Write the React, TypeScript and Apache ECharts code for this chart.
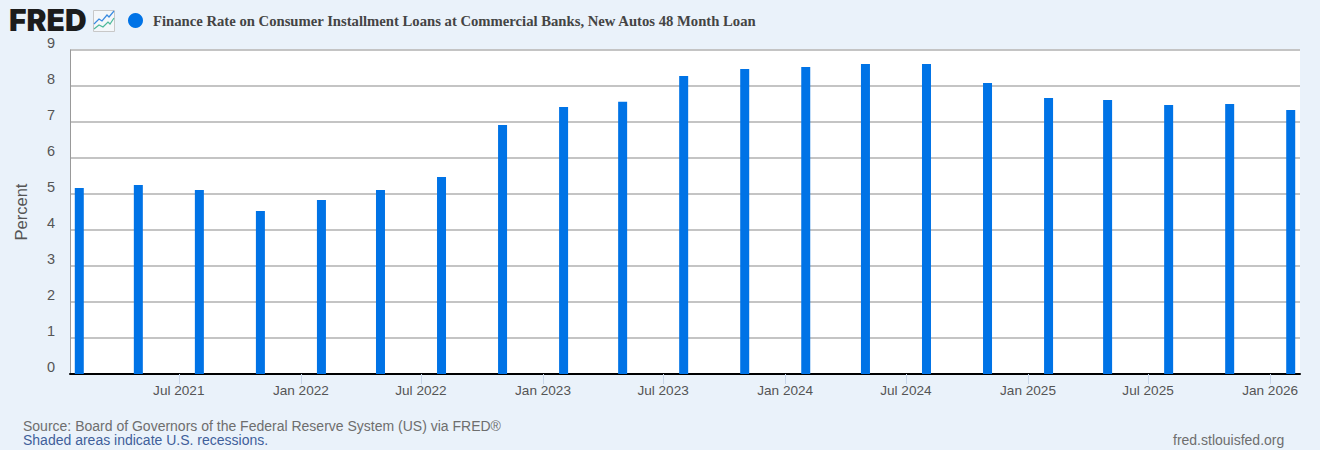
import React, { useEffect, useRef } from "react";
import * as echarts from "echarts";

const dates = ["2021-02-01","2021-05-01","2021-08-01","2021-11-01","2022-02-01","2022-05-01","2022-08-01","2022-11-01","2023-02-01","2023-05-01","2023-08-01","2023-11-01","2024-02-01","2024-05-01","2024-08-01","2024-11-01","2025-02-01","2025-05-01","2025-08-01","2025-11-01","2026-02-01"];
const rates = [5.17,5.25,5.11,4.53,4.83,5.11,5.47,6.92,7.42,7.56,8.28,8.47,8.53,8.61,8.61,8.08,7.67,7.61,7.47,7.5,7.33];
const tickDates = ["2021-07-01","2022-01-01","2022-07-01","2023-01-01","2023-07-01","2024-01-01","2024-07-01","2025-01-01","2025-07-01","2026-01-01"];
const seriesName = "Finance Rate on Consumer Installment Loans at Commercial Banks, New Autos 48 Month Loan";
const months = ["Jan","Feb","Mar","Apr","May","Jun","Jul","Aug","Sep","Oct","Nov","Dec"];
const ts = (s: string) => Date.parse(s + "T00:00:00Z");
const SANS = "'Liberation Sans', Arial, sans-serif";

export default function App() {
  const ref = useRef<HTMLDivElement>(null);
  useEffect(() => {
    document.body.style.margin = "0";
    const chart = echarts.init(ref.current!, null, { renderer: "svg" });
    chart.setOption({
      animation: false,
      backgroundColor: "#EAF2FA",
      legend: {
        show: true,
        left: 128,
        top: 13,
        padding: 0,
        itemWidth: 15,
        itemHeight: 15,
        itemGap: 6,
        icon: "circle",
        selectedMode: false,
        data: [seriesName],
        textStyle: { fontFamily: "'Liberation Serif', serif", fontWeight: "bold", fontSize: 14.68, color: "#444444", padding: [0, 0, 0, 5] },
      },
      grid: { left: 70, right: 20, top: 50, height: 324, backgroundColor: "#FFFFFF", show: true, borderWidth: 0 },
      xAxis: {
        type: "value",
        scale: true,
        min: ts("2021-01-18"),
        max: ts("2026-02-15"),
        offset: 1,
        splitLine: { show: false },
        axisLine: { show: true, lineStyle: { color: "#000000", width: 2 } },
        axisTick: { show: true, customValues: tickDates.map(ts), length: 10, lineStyle: { color: "#C8D6EA", width: 1 } },
        axisLabel: {
          show: true,
          customValues: tickDates.map(ts),
          margin: 8,
          fontFamily: SANS,
          fontSize: 13.6,
          color: "#555555",
          hideOverlap: false,
          formatter: (v: number) => { const d = new Date(v); return months[d.getUTCMonth()] + " " + d.getUTCFullYear(); },
        },
      },
      yAxis: {
        type: "value",
        min: 0,
        max: 9,
        interval: 1,
        name: "Percent",
        nameLocation: "middle",
        nameGap: 41,
        nameRotate: 90,
        nameTextStyle: { fontFamily: SANS, fontSize: 16.5, color: "#555555" },
        axisLine: { show: true, lineStyle: { color: "#999999", width: 1 } },
        axisTick: { show: false },
        splitLine: { show: true, lineStyle: { color: "#C4C4C4", width: 2 } },
        axisLabel: { margin: 15, fontFamily: SANS, fontSize: 14.5, color: "#555555", verticalAlign: "bottom", lineHeight: 15 },
      },
      series: [
        {
          type: "bar",
          name: seriesName,
          data: dates.map((d, i) => [ts(d), rates[i]]),
          barWidth: 9,
          itemStyle: { color: "#0073E6" },
        },
      ],
      graphic: [
        { type: "text", x: 9, y: 10, style: { text: "FRED", fontFamily: "Inter, Roboto, sans-serif", fontWeight: 900, fontSize: 30, lineHeight: 20, fill: "#1C1C1C" } },
        { type: "rect", shape: { x: 93.5, y: 10.5, width: 21, height: 21 }, style: { fill: "#F4F7FA", stroke: "#C8C8C8", lineWidth: 1 } },
        { type: "polyline", shape: { points: [[94, 24], [99, 19], [102, 21], [107, 15], [109, 17], [114, 11]] }, style: { fill: "none", stroke: "#3B8BE0", lineWidth: 1.2 } },
        { type: "polyline", shape: { points: [[94, 29], [99, 25], [103, 27], [108, 22], [110, 24], [114, 18]] }, style: { fill: "none", stroke: "#4DB89A", lineWidth: 1.2 } },
        { type: "text", x: 23, y: 419, style: { text: "Source: Board of Governors of the Federal Reserve System (US) via FRED®", fontFamily: SANS, fontSize: 14, fill: "#6E6E6E" } },
        { type: "text", x: 23, y: 433, style: { text: "Shaded areas indicate U.S. recessions.", fontFamily: SANS, fontSize: 14, fill: "#3F5F9A" } },
        { type: "text", x: 1173, y: 433, style: { text: "fred.stlouisfed.org", fontFamily: SANS, fontSize: 14, fill: "#6E6E6E" } },
      ],
    });
    return () => chart.dispose();
  }, []);
  return <div ref={ref} style={{ width: 1320, height: 450 }} />;
}
